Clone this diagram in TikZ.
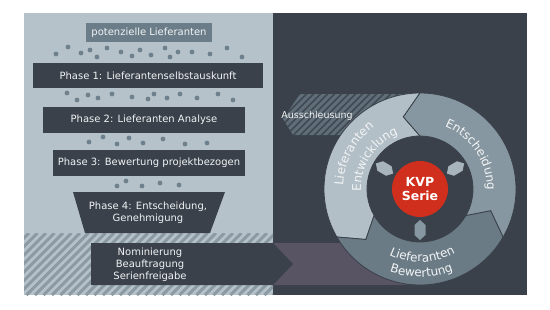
\documentclass[tikz,border=0pt]{standalone}
\usepackage{fontspec}
\setmainfont{DejaVu Sans}
\usepackage{tikz}
\usetikzlibrary{positioning,decorations.text}

\definecolor{panelgray}{HTML}{B6C2CA}
\definecolor{slate}{HTML}{3A414B}
\definecolor{dotgray}{HTML}{6F818C}
\definecolor{sourcegray}{HTML}{6B7D89}
\definecolor{stripegray}{HTML}{8C9AA4}
\definecolor{exitbase}{HTML}{414953}
\definecolor{exitstripe}{HTML}{5F6E79}
\definecolor{bandpurple}{HTML}{595463}
\definecolor{ringlight}{HTML}{B3BFC7}
\definecolor{ringmid}{HTML}{8797A1}
\definecolor{ringdark}{HTML}{6A7B86}
\definecolor{hexlight}{HTML}{A8B4BC}
\definecolor{kvpred}{HTML}{CF2F1C}
\definecolor{textwhite}{HTML}{F2F4F5}

\newcommand{\ringfont}{\fontsize{12}{14}\selectfont}

\begin{document}
\begin{tikzpicture}[
    x=1pt, y=1pt,
    box/.style={fill=slate, text=textwhite, inner sep=0pt, align=center, font=\fontsize{10}{12}\selectfont},
    srcbox/.style={box, fill=sourcegray},
    dot/.style={fill=dotgray},
    seg/.style={draw=slate, line width=0.8pt},
    ringtext/.style={decorate, decoration={text along path, text align=center, text color=textwhite}}
]
  \useasboundingbox (0,0) rectangle (550,309);

  % Panels
  \fill[panelgray] (24,14) rectangle (273,296);
  \fill[slate] (273,14) rectangle (527,296);

  % Hatched band (left)
  \begin{scope}
    \clip (24,14) rectangle (273,76);
    \foreach \s in {-50,-41.5,...,280} \draw[stripegray, line width=3pt] (\s,14) -- ++(62,62);
  \end{scope}

  % Band behind the ring
  \fill[bandpurple] (273,24) rectangle (420,66);

  % Ausschleusung
  \begin{scope}
    \clip (300,215) -- (412,215) -- (412,174) -- (293,174) -- (283,190) -- cycle;
    \fill[exitbase] (280,170) rectangle (415,220);
    \foreach \s in {230,237,...,420} \draw[exitstripe, line width=3pt] (\s,170) -- ++(50,50);
  \end{scope}
  \node[font=\fontsize{9.5}{11}\selectfont, text=textwhite] (exit) at (317,193) {Ausschleusung};

  % Funnel
  \node[srcbox, minimum width=126pt, minimum height=19pt] (source) at (149,276.5) {potenzielle Lieferanten};
  \node[box, minimum width=230pt, minimum height=25pt] (phase1) at (148,233.5) {Phase 1: Lieferantenselbstauskunft};
  \node[box, minimum width=202pt, minimum height=26pt] (phase2) at (144,189) {Phase 2: Lieferanten Analyse};
  \node[box, minimum width=192pt, minimum height=26pt] (phase3) at (149,146) {Phase 3: Bewertung projektbezogen};
  \fill[slate] (73,117) -- (225,117) -- (210,76) -- (85,76) -- cycle;
  \node[box, fill=none] (phase4) at (148,96.5) {Phase 4: Entscheidung,\\Genehmigung};

  % Dots
  \foreach \x/\y in {56/255,68/262,81/256,90/259,97/252,107/261,121/257,132/253,140/259,151/254,165/261,170/252,178/257,192/257,210/255,227/261,242/252}
    \fill[dot] (\x,\y) circle (2.4);
  \foreach \x/\y in {67/216,77/209,88/214,98/211,112/215,132/212,148/210,154/215,167/211,180/215,197/211,218/215,233/209}
    \fill[dot] (\x,\y) circle (2.4);
  \foreach \x/\y in {89/167,103/172,117/165,129/171,143/166,163/170,185/165,207/166}
    \fill[dot] (\x,\y) circle (2.4);
  \foreach \x/\y in {117/123,126/128,142/123,160/126,179/124}
    \fill[dot] (\x,\y) circle (2.4);

  % Nominierung
  \fill[slate] (91,24) -- (273,24) -- (293,45) -- (273,66) -- (91,66) -- cycle;
  \node[box, fill=none] (nomination) at (150,44) {Nominierung\\Beauftragung\\Serienfreigabe};

  % KVP ring
  \begin{scope}[shift={(420,120)}]
    \filldraw[seg, fill=ringlight] (90:96) arc[start angle=90, end angle=210, radius=96] -- (223:74) -- (210:53) arc[start angle=210, end angle=90, radius=53] -- (103:74) -- cycle;
    \filldraw[seg, fill=ringdark] (210:96) arc[start angle=210, end angle=330, radius=96] -- (343:74) -- (330:53) arc[start angle=330, end angle=210, radius=53] -- (223:74) -- cycle;
    \filldraw[seg, fill=ringmid] (330:96) arc[start angle=330, end angle=450, radius=96] -- (103:74) -- (450:53) arc[start angle=450, end angle=330, radius=53] -- (343:74) -- cycle;
    \fill[slate] (0,0) circle (52.6);
    \foreach \a/\c in {150/hexlight,30/hexlight,270/ringmid}
      \fill[\c, rotate=\a] (31,0) -- (36,5.5) -- (46,5.5) -- (51,0) -- (46,-5.5) -- (36,-5.5) -- cycle;
    \node[circle, fill=kvpred, minimum size=56pt, inner sep=0pt, text=white, align=center, font=\fontsize{12.5}{14}\selectfont\bfseries] (kvp) at (0,0) {KVP\\Serie};

    \path[ringtext, decoration={text={|\ringfont|Lieferanten}}] (202:77) arc[start angle=202, end angle=102, radius=77];
    \path[ringtext, decoration={text={|\ringfont|Entwicklung}}] (197:59) arc[start angle=197, end angle=97, radius=59];
    \path[ringtext, decoration={text={|\ringfont|Entscheidung}}] (100:67) arc[start angle=100, end angle=-33, radius=67];
    \path[ringtext, decoration={text={|\ringfont|Lieferanten}}] (222:73) arc[start angle=222, end angle=322, radius=73];
    \path[ringtext, decoration={text={|\ringfont|Bewertung}}] (221:88) arc[start angle=221, end angle=321, radius=88];
  \end{scope}
\end{tikzpicture}
\end{document}
